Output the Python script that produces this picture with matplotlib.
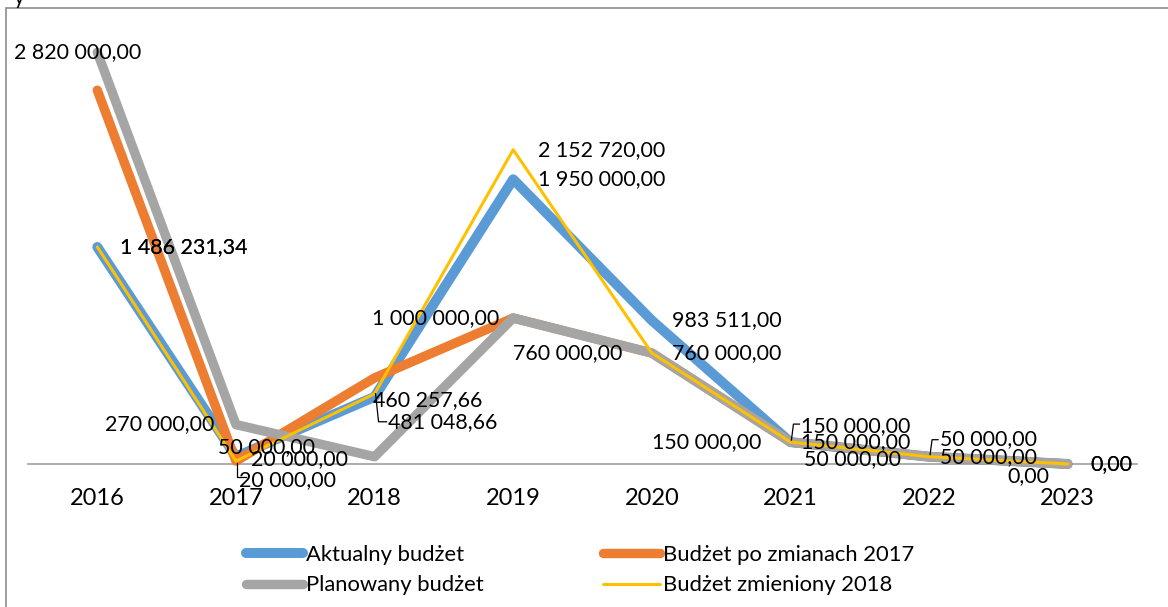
import matplotlib
matplotlib.use('agg')
import matplotlib.pyplot as plt
from matplotlib.lines import Line2D
from matplotlib.patches import Rectangle
from matplotlib.transforms import IdentityTransform

plt.rcParams['font.family'] = ['Lato', 'DejaVu Sans']

# data
years = ['2016', '2017', '2018', '2019', '2020', '2021', '2022', '2023']
aktualny = [1486231.34, 50000, 460257.66, 1950000, 983511, 150000, 50000, 0]
po_zmianach_2017 = [2560000, 20000, 590000, 1000000, 760000, 150000, 50000, 0]
planowany = [2820000, 270000, 50000, 1000000, 760000, 150000, 50000, 0]
zmieniony_2018 = [1486231.34, 20000, 481048.66, 2152720, 760000, 150000, 50000, 0]

series_names = ['Aktualny budżet', 'Budżet po zmianach 2017',
                'Planowany budżet', 'Budżet zmieniony 2018']
series_values = [aktualny, po_zmianach_2017, planowany, zmieniony_2018]
colors = ['#5B9BD5', '#ED7D31', '#A5A5A5', '#FFC000']
widths = [7.2, 6.8, 6.8, 2.2]


def fmt(v):
    s = '{:,.2f}'.format(v)
    return s.replace(',', ' ').replace('.', ',')


fig = plt.figure(figsize=(11.68, 6.07), dpi=100)
W, H = 1168, 607
ax = fig.add_axes([28 / W, 1 - 464 / H, (1137 - 28) / W, (464 - 20) / H])
ax.set_xlim(-0.5, 7.5)
ax.set_ylim(0, 444 / 146e-6)
ax.axis('off')

x = list(range(len(years)))
handles = []
for vals, name, c, lw in zip(series_values, series_names, colors, widths):
    h, = ax.plot(x, vals, color=c, lw=lw, label=name, solid_capstyle='round',
                 solid_joinstyle='round', clip_on=False)
    handles.append(h)

# category axis line and tick labels
ax.plot([-0.5, 7.5], [0, 0], color='#A0A0A0', lw=1.2, zorder=0, clip_on=False)
for i, yr in enumerate(years):
    ax.annotate(yr, (i, 0), xytext=(0, -25), textcoords='offset points',
                ha='center', va='center', fontsize=17)

# data labels: (series, point, dx px, dy px)
labels = [
    (2, 0, -20, 0), (0, 0, 86, 0), (3, 0, 86, 0),
    (2, 1, -76, 0), (0, 1, 31, -10), (3, 1, 64, -2), (1, 1, 52, 19),
    (1, 3, -78, 0), (0, 2, 53, 3), (3, 2, 68, 28),
    (3, 3, 88, 0), (0, 3, 88, 0),
    (0, 4, 75, 0), (3, 4, 75, 0), (2, 4, -84, 0),
    (2, 5, -84, 0), (0, 5, 65, -16), (3, 5, 65, 0),
    (2, 6, -77, 2), (0, 6, 59, -18), (3, 6, 59, 0),
    (2, 7, -39, 12), (0, 7, 44, 0), (3, 7, 44, 0),
]
for s, i, dx, dy in labels:
    v = series_values[s][i]
    ax.annotate(fmt(v), (i, v), xytext=(dx * 0.72, -dy * 0.72),
                textcoords='offset points', ha='center', va='center',
                fontsize=15.4, zorder=5)

# leader lines (pixel offsets from the point)
leaders = [
    (1, 1, [(1, 2), (1, 16), (10, 16)]),
    (3, 2, [(1, 0), (4, 28), (12, 28)]),
    (0, 5, [(1, -2), (3, -18), (9, -18)]),
    (0, 6, [(1, -2), (3, -17), (9, -17)]),
]
fig.canvas.draw()
for s, i, pts in leaders:
    bx, by = ax.transData.transform((i, series_values[s][i]))
    fig.add_artist(Line2D([bx + dx for dx, dy in pts], [by - dy for dx, dy in pts],
                          transform=IdentityTransform(), color='black', lw=0.9))

# chart border (cut off at the right and bottom)
fig.add_artist(Rectangle((6 / W, -0.1), 1.2, 1 - 8 / H + 0.1, transform=fig.transFigure,
                         fill=False, edgecolor='#8C8C8C', lw=1.2))
fig.text(14 / W, 1 + 12 / H, 'y', fontsize=15, va='top', ha='left')

order = [0, 2, 1, 3]
leg = fig.legend([handles[k] for k in order], [series_names[k] for k in order],
                 ncol=2, loc='center', bbox_to_anchor=(580 / W, 1 - 570 / H),
                 frameon=False, fontsize=15.8, handlelength=2.6, handletextpad=0.14,
                 columnspacing=5.4, labelspacing=0.5)

fig.savefig('out.png', dpi=100)
